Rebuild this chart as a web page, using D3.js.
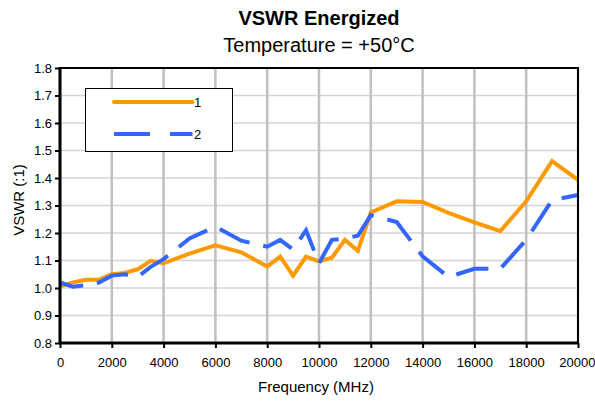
<!DOCTYPE html>
<html><head><meta charset="utf-8">
<script src="https://cdn.jsdelivr.net/npm/d3@7"></script>
<style>body{margin:0;background:#fff;}svg{display:block;font-family:"Liberation Sans",Arial,sans-serif;}</style>
</head><body>
<svg id="c" width="595" height="402"></svg>
<script>
const freqs = [0,500,1000,1500,2000,2500,3000,3500,4000,5000,6000,7000,8000,8500,9000,9500,10000,10500,11000,11500,12000,13000,14000,15000,16000,17000,18000,19000,20000];
const series1 = [1.007,1.02,1.03,1.03,1.05,1.055,1.068,1.099,1.09,1.125,1.155,1.13,1.078,1.114,1.045,1.114,1.097,1.11,1.175,1.135,1.275,1.315,1.313,1.273,1.239,1.207,1.315,1.461,1.393];
const series2 = [1.02,1.005,1.01,1.02,1.045,1.05,1.04,1.077,1.105,1.18,1.223,1.172,1.15,1.175,1.14,1.21,1.09,1.175,1.18,1.19,1.265,1.24,1.115,1.04,1.07,1.07,1.175,1.32,1.338];
const xTicks = [0,2000,4000,6000,8000,10000,12000,14000,16000,18000,20000];
const yTicks = [0.8,0.9,1.0,1.1,1.2,1.3,1.4,1.5,1.6,1.7,1.8];
const seriesNames = ["1","2"];
const colors = ["#FF9900","#3366FF"];

const svg = d3.select("#c");
const L=60, R=578, T=68, B=343;
const x = d3.scaleLinear().domain([0,20000]).range([L,R]);
const y = d3.scaleLinear().domain([0.8,1.8]).range([B,T]);

// gridlines
svg.append("g").selectAll("line").data(yTicks).join("line")
  .attr("x1",L).attr("x2",R).attr("y1",d=>y(d)).attr("y2",d=>y(d))
  .attr("stroke","#d4d4d4").attr("stroke-width",1.5);
svg.append("g").selectAll("line").data(xTicks).join("line")
  .attr("y1",T).attr("y2",B).attr("x1",d=>x(d)).attr("x2",d=>x(d))
  .attr("stroke","#c0c0c0").attr("stroke-width",2.5);

// lines
const line = d3.line().x((d,i)=>x(freqs[i])).y(d=>y(d));
svg.append("path").datum(series1).attr("d",line).attr("fill","none")
  .attr("stroke",colors[0]).attr("stroke-width",4).attr("stroke-linejoin","miter");

// dashed series: align dash phase so that a dash begins just after the 15000 MHz point
const pts = series2.map((v,i)=>[x(freqs[i]),y(v)]);
const P = 47, dashLen = 33, gapLen = 14;
let cum = 0, anchor = 0;
for (let i=1;i<pts.length;i++){
  const seg = Math.hypot(pts[i][0]-pts[i-1][0], pts[i][1]-pts[i-1][1]);
  if (freqs[i-1]===15000){ anchor = cum + seg*0.3; }
  cum += seg;
}
const offset = P - (anchor % P);
svg.append("path").datum(series2).attr("d",line).attr("fill","none")
  .attr("stroke",colors[1]).attr("stroke-width",4)
  .attr("stroke-dasharray",`${dashLen},${gapLen}`).attr("stroke-dashoffset",offset);

// border
svg.append("rect").attr("x",L).attr("y",T).attr("width",R-L).attr("height",B-T)
  .attr("fill","none").attr("stroke","#000").attr("stroke-width",2);
svg.append("line").attr("x1",L).attr("x2",L).attr("y1",T-1).attr("y2",B+1).attr("stroke","#000").attr("stroke-width",3);
svg.append("line").attr("x1",L-1).attr("x2",R+1).attr("y1",B).attr("y2",B).attr("stroke","#000").attr("stroke-width",3);

// axes
const yAxis = d3.axisLeft(y).tickValues(yTicks).tickFormat(d3.format(".1f")).tickSize(5).tickPadding(3);
const gy = svg.append("g").attr("transform",`translate(${L},0)`).call(yAxis);
const xAxis = d3.axisBottom(x).tickValues(xTicks).tickFormat(d=>String(d)).tickSize(5).tickPadding(10);
const gx = svg.append("g").attr("transform",`translate(0,${B})`).call(xAxis);
[gy,gx].forEach(g=>{
  g.select(".domain").remove();
  g.selectAll(".tick line").attr("stroke","#000").attr("stroke-width",2);
  g.selectAll(".tick text").attr("fill","#000").style("font-size","13px").style("font-family","'Liberation Sans',Arial,sans-serif");
});
// keep the last x label inside the picture
gx.selectAll(".tick text").filter(d=>d===20000).attr("text-anchor","end").attr("dx","17");

// titles
svg.append("text").attr("x",319).attr("y",25).attr("text-anchor","middle")
  .style("font-size","20px").style("font-weight","bold").text("VSWR Energized");
svg.append("text").attr("x",319).attr("y",52).attr("text-anchor","middle")
  .style("font-size","20px").text("Temperature = +50°C");
svg.append("text").attr("x",316).attr("y",392).attr("text-anchor","middle")
  .style("font-size","15px").text("Frequency (MHz)");
svg.append("text").attr("transform","translate(24,200) rotate(-90)").attr("text-anchor","middle")
  .style("font-size","15px").text("VSWR (:1)");

// legend
const lg = svg.append("g");
lg.append("rect").attr("x",85.5).attr("y",88.5).attr("width",147).attr("height",63)
  .attr("fill","#fff").attr("stroke","#000").attr("stroke-width",1);
const legY = [102,134];
seriesNames.forEach((n,i)=>{
  lg.append("line").attr("x1",114).attr("x2",192.5).attr("y1",legY[i]).attr("y2",legY[i])
    .attr("stroke",colors[i]).attr("stroke-width",4)
    .attr("stroke-linecap", i===0?"round":"butt")
    .attr("stroke-dasharray", i===1?"36,20":null);
  lg.append("text").attr("x",194).attr("y",legY[i]+5).style("font-size","13px").text(n);
});
</script>
</body></html>
